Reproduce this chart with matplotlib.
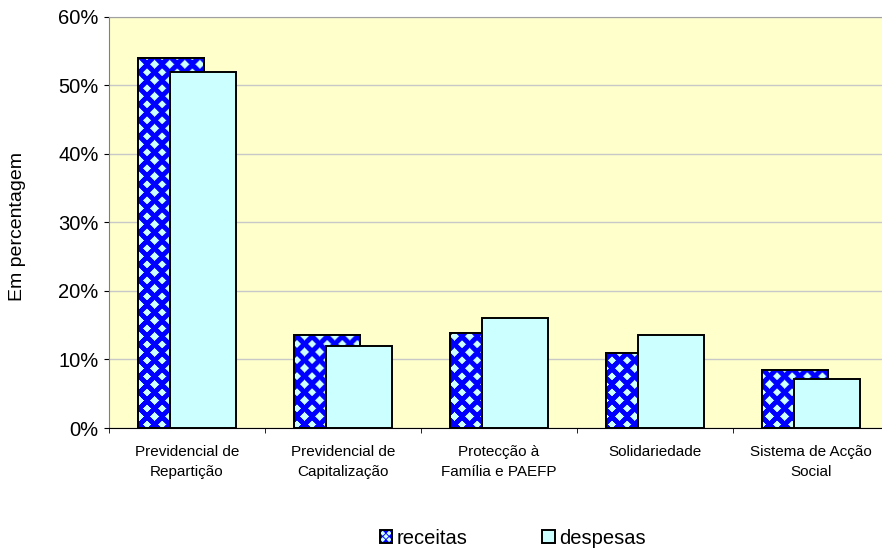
import numpy as np
import matplotlib
matplotlib.use("Agg")
import matplotlib.pyplot as plt
from matplotlib.patches import Rectangle, Polygon
from matplotlib.legend_handler import HandlerBase

plt.rcParams['font.family'] = ['Liberation Sans', 'DejaVu Sans']

categories = ["Previdencial de\nRepartição", "Previdencial de\nCapitalização",
              "Protecção à\nFamília e PAEFP", "Solidariedade",
              "Sistema de Acção\nSocial"]
receitas = [54.0, 13.6, 13.8, 10.9, 8.4]
despesas = [51.9, 11.9, 16.0, 13.6, 7.2]
yticks = [0, 10, 20, 30, 40, 50, 60]
ytick_labels = ["0%", "10%", "20%", "30%", "40%", "50%", "60%"]

BLUE = "#0000FF"
CYAN = "#CCFFFF"
PLOT_BG = "#FFFFCC"

fig = plt.figure(figsize=(8.82, 5.52), dpi=100)
ax = fig.add_axes([109 / 882, 124 / 552, 780 / 882, 411.5 / 552])
ax.set_facecolor(PLOT_BG)

n = len(categories)
x = np.arange(n)
width = 0.42
off = 0.104
ax.set_xlim(-0.5, n - 0.5)
ax.set_ylim(0, 60)

# diamond texture for the "receitas" series: small cyan diamonds on blue
Wpx, Hpx = 780, 412
yy, xx = np.mgrid[0:Hpx, 0:Wpx].astype(float)
u = xx / 15.0 + yy / 16.0
v = xx / 15.0 - yy / 16.0
du = np.abs(u - np.round(u))
dv = np.abs(v - np.round(v))
mask = np.maximum(du, dv) < 0.27
tex = np.zeros((Hpx, Wpx, 3))
tex[mask] = matplotlib.colors.to_rgb(CYAN)
tex[~mask] = matplotlib.colors.to_rgb(BLUE)

ax.yaxis.grid(True, color="#C8C8C8", linewidth=1.0)
ax.set_axisbelow(True)

bars_r = ax.bar(x - off, receitas, width, facecolor=BLUE, edgecolor="black",
                linewidth=1.4, zorder=2)
for b in bars_r:
    im = ax.imshow(tex, extent=(-0.5, n - 0.5, 0, 60), aspect="auto",
                   interpolation="bilinear", zorder=2.1, origin="upper")
    im.set_clip_path(b)
    edge = Rectangle(b.get_xy(), b.get_width(), b.get_height(), fill=False,
                     edgecolor="black", linewidth=1.4, zorder=2.2)
    ax.add_patch(edge)
ax.set_xlim(-0.5, n - 0.5)
ax.set_ylim(0, 60)

ax.bar(x + off, despesas, width, facecolor=CYAN, edgecolor="black",
       linewidth=1.4, zorder=3)

ax.set_yticks(yticks)
ax.set_yticklabels(ytick_labels, fontsize=14.5)
ax.set_xticks(x)
ax.set_xticklabels(categories, fontsize=11, linespacing=1.55)
ax.set_xticks(np.arange(n + 1) - 0.5, minor=True)
ax.tick_params(axis="x", which="major", length=0, pad=12)
ax.tick_params(axis="x", which="minor", length=3.6, color="black")
ax.tick_params(axis="y", length=3.6, color="black", pad=4)
ax.set_ylabel("Em percentagem", fontsize=14)
ax.yaxis.set_label_coords(-0.106, 0.49)

for s in ["top", "right"]:
    ax.spines[s].set_color("#A0A0A0")
ax.spines["left"].set_color("#808080")
ax.spines["bottom"].set_color("black")


class CheckerHandler(HandlerBase):
    def create_artists(self, legend, orig_handle, xdescent, ydescent,
                       width, height, fontsize, trans):
        s = height
        x0 = -xdescent + (width - s) / 2
        y0 = -ydescent
        arts = [Rectangle((x0, y0), s, s, facecolor=BLUE, edgecolor="none",
                          transform=trans)]
        d = s / 5
        for cx, cy in [(x0 + s * 0.25, y0 + s * 0.25), (x0 + s * 0.75, y0 + s * 0.25),
                       (x0 + s * 0.25, y0 + s * 0.75), (x0 + s * 0.75, y0 + s * 0.75),
                       (x0 + s * 0.5, y0 + s * 0.5)]:
            arts.append(Polygon([(cx - d, cy), (cx, cy + d), (cx + d, cy), (cx, cy - d)],
                                closed=True, facecolor=CYAN, edgecolor="none",
                                transform=trans))
        arts.append(Rectangle((x0, y0), s, s, fill=False, edgecolor="black",
                              linewidth=1.4, transform=trans))
        return arts


class SquareHandler(HandlerBase):
    def create_artists(self, legend, orig_handle, xdescent, ydescent,
                       width, height, fontsize, trans):
        s = height
        x0 = -xdescent + (width - s) / 2
        return [Rectangle((x0, -ydescent), s, s, facecolor=CYAN,
                          edgecolor="black", linewidth=1.4, transform=trans)]


h_r = Rectangle((0, 0), 1, 1)
h_d = Rectangle((0, 0), 1, 1)
fig.legend([h_r, h_d], ["receitas", "despesas"],
           handler_map={h_r: CheckerHandler(), h_d: SquareHandler()},
           loc="center", bbox_to_anchor=(513 / 882, 1 - 538 / 552),
           ncol=2, frameon=False, fontsize=14.5, handlelength=0.6,
           handleheight=0.6, handletextpad=0.25, columnspacing=3.7,
           borderpad=0)

fig.savefig("out.png", dpi=100)
